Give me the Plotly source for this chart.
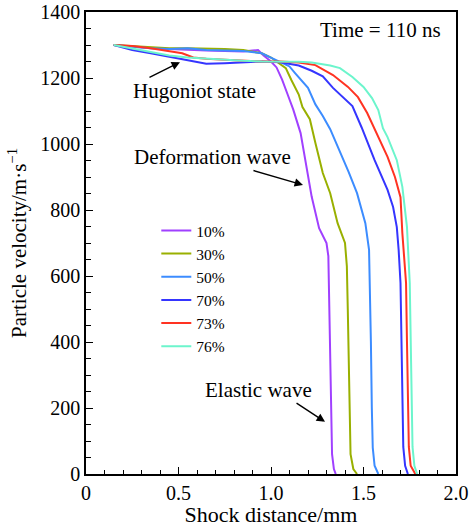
import plotly.graph_objects as go

# ---- data ----
labels = ["10%", "30%", "50%", "70%", "73%", "76%"]
colors = ["#a040ff", "#99b000", "#3c8cff", "#3535ff", "#ff3322", "#6cf5cc"]

x10 = [0.15,0.25,0.35,0.45,0.55,0.65,0.75,0.85,0.90,0.93,0.96,1.00,1.03,1.06,1.09,1.12,1.16,1.19,1.22,1.26,1.30,1.31,1.315,1.32,1.325,1.33,1.34,1.35]
y10 = [1300,1295,1290,1288,1285,1283,1282,1280,1283,1285,1268,1250,1232,1195,1150,1105,1033,940,840,745,700,660,500,300,150,60,15,0]

x30 = [0.15,0.25,0.35,0.45,0.55,0.65,0.75,0.85,0.95,1.00,1.04,1.08,1.11,1.15,1.17,1.21,1.24,1.28,1.32,1.36,1.40,1.41,1.415,1.42,1.425,1.43,1.445,1.465]
y30 = [1300,1296,1293,1290,1290,1290,1288,1285,1275,1262,1245,1230,1194,1150,1112,1075,1003,912,851,760,700,630,500,300,150,60,15,0]

x50 = [0.15,0.25,0.35,0.45,0.55,0.65,0.75,0.85,0.95,1.00,1.05,1.10,1.13,1.17,1.20,1.24,1.28,1.32,1.37,1.42,1.465,1.51,1.53,1.535,1.54,1.545,1.55,1.56,1.58]
y50 = [1300,1295,1290,1288,1290,1285,1283,1282,1275,1262,1250,1235,1215,1190,1170,1120,1085,1045,982,915,851,760,679,579,400,200,80,25,0]

x70 = [0.15,0.25,0.35,0.45,0.55,0.60,0.65,0.75,0.85,0.95,1.05,1.15,1.22,1.28,1.335,1.39,1.44,1.49,1.56,1.63,1.66,1.68,1.69,1.70,1.705,1.71,1.715,1.725,1.74]
y70 = [1300,1285,1275,1265,1255,1250,1243,1245,1248,1250,1248,1238,1222,1205,1170,1142,1115,1050,951,861,809,748,679,579,400,200,82,25,0]

x73 = [0.15,0.25,0.35,0.45,0.52,0.58,0.65,0.75,0.85,0.95,1.05,1.15,1.24,1.335,1.416,1.47,1.52,1.56,1.63,1.67,1.70,1.71,1.73,1.735,1.74,1.745,1.755,1.78]
y73 = [1300,1297,1290,1282,1275,1262,1258,1255,1252,1250,1250,1247,1239,1209,1173,1142,1094,1045,961,900,839,730,579,400,200,82,25,0]

x76 = [0.15,0.25,0.35,0.45,0.55,0.65,0.75,0.85,0.95,1.05,1.15,1.22,1.265,1.32,1.373,1.44,1.50,1.546,1.58,1.605,1.63,1.68,1.71,1.735,1.75,1.755,1.76,1.765,1.775,1.79]
y76 = [1300,1290,1278,1268,1262,1258,1255,1252,1250,1250,1249,1247,1243,1238,1230,1203,1173,1139,1103,1048,1021,951,870,748,579,400,200,82,25,0]

xs = [x10, x30, x50, x70, x73, x76]
ys = [y10, y30, y50, y70, y73, y76]

x_tickvals = [0, 0.5, 1.0, 1.5, 2.0]
x_ticktext = ["0", "0.5", "1.0", "1.5", "2.0"]
y_tickvals = [0, 200, 400, 600, 800, 1000, 1200, 1400]
y_ticktext = ["0", "200", "400", "600", "800", "1000", "1200", "1400"]

FONT = "Liberation Serif, serif"
FS_TICK = 20
FS_TXT = 21

fig = go.Figure()
for x, y, lab, c in zip(xs, ys, labels, colors):
    fig.add_trace(go.Scatter(x=x, y=y, mode="lines", name=lab,
                             line=dict(color=c, width=2)))

fig.update_layout(
    width=471, height=527,
    margin=dict(l=86, r=15, t=12, b=53, autoexpand=False),
    paper_bgcolor="white", plot_bgcolor="white",
    font=dict(family=FONT, size=FS_TXT, color="black"),
    showlegend=True,
    legend=dict(x=0.19, y=0.563, xanchor="left", yanchor="top",
                bgcolor="rgba(0,0,0,0)", font=dict(family=FONT, size=15.5),
                tracegroupgap=0, itemwidth=30),
)

fig.update_xaxes(
    range=[0, 2], tickmode="array", tickvals=x_tickvals, ticktext=x_ticktext,
    ticks="inside", ticklen=7, tickwidth=1.2, tickcolor="black",
    minor=dict(dtick=0.1, ticks="inside", ticklen=4, tickwidth=1, tickcolor="black"),
    showline=True, linecolor="black", linewidth=1.5, mirror=True,
    showgrid=False, zeroline=False, automargin=False,
    tickfont=dict(family=FONT, size=FS_TICK),
    title=dict(text="Shock distance/mm", font=dict(family=FONT, size=22), standoff=2),
)
fig.update_yaxes(
    range=[0, 1400], tickmode="array", tickvals=y_tickvals, ticktext=y_ticktext,
    ticks="inside", ticklen=7, tickwidth=1.2, tickcolor="black",
    minor=dict(dtick=50, ticks="inside", ticklen=5, tickwidth=1, tickcolor="black"),
    showline=True, linecolor="black", linewidth=1.5, mirror=True,
    showgrid=False, zeroline=False, automargin=False,
    tickfont=dict(family=FONT, size=FS_TICK),
    title=dict(text="Particle velocity/m·s<sup>−1</sup>", font=dict(family=FONT, size=21), standoff=8),
)

# text labels
fig.add_annotation(x=1.59, y=1345, text="Time = 110 ns", showarrow=False,
                   font=dict(family=FONT, size=FS_TXT))
fig.add_annotation(x=0.589, y=1161, text="Hugoniot state", showarrow=False,
                   font=dict(family=FONT, size=FS_TXT))
fig.add_annotation(x=0.685, y=961, text="Deformation wave", showarrow=False,
                   font=dict(family=FONT, size=FS_TXT))
fig.add_annotation(x=0.935, y=255, text="Elastic wave", showarrow=False,
                   font=dict(family=FONT, size=FS_TXT))

# arrows
arrows = [((0.508, 1248), (0.335, 1200)),
          ((1.173, 876), (0.897, 921)),
          ((1.292, 158), (1.13, 218))]
for (hx, hy), (tx, ty) in arrows:
    fig.add_annotation(x=hx, y=hy, ax=tx, ay=ty, axref="x", ayref="y",
                       xref="x", yref="y", text="", showarrow=True,
                       arrowhead=2, arrowsize=1.2, arrowwidth=1.4, arrowcolor="black")

fig.write_html("out.html", config={"displayModeBar": False},
               post_script="document.body.style.margin='0';document.body.style.overflow='hidden';")
